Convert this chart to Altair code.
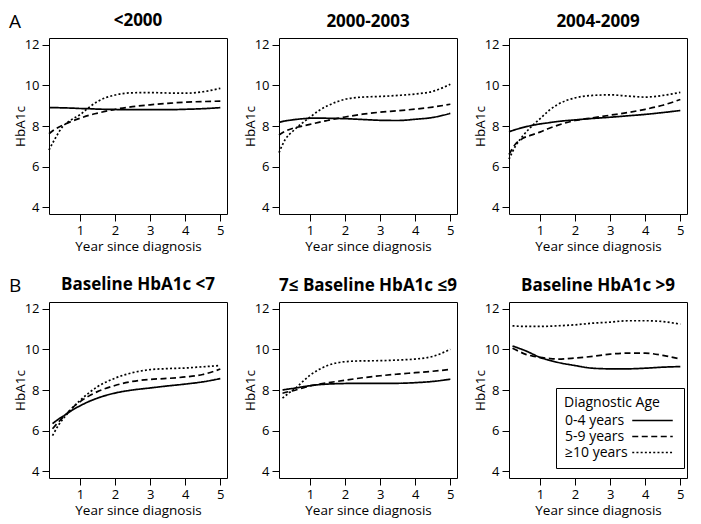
import altair as alt
import pandas as pd

# ---------------- data ----------------
X_A = [0.12, 0.3, 0.5, 0.75, 1, 1.25, 1.5, 2, 2.5, 3, 3.5, 4, 4.5, 5]
X_B = [0.22, 0.4, 0.6, 0.8, 1, 1.25, 1.5, 2, 2.5, 3, 3.5, 4, 4.5, 5]

PANELS = ["<2000", "2000-2003", "2004-2009",
          "Baseline HbA1c <7", "7\u2264 Baseline HbA1c \u22649", "Baseline HbA1c >9"]
GROUPS = ["0-4 years", "5-9 years", "\u226510 years"]
LETTERS = ["A", "B"]
X_TICKS = [1, 2, 3, 4, 5]
Y_TICKS = [4, 6, 8, 10, 12]

# <2000
A1_04 = [8.90, 8.90, 8.89, 8.88, 8.86, 8.85, 8.83, 8.81, 8.80, 8.80, 8.80, 8.82, 8.85, 8.90]
A1_59 = [7.62, 7.85, 8.03, 8.22, 8.38, 8.52, 8.63, 8.82, 8.95, 9.04, 9.11, 9.17, 9.20, 9.22]
A1_10 = [6.82, 7.40, 7.95, 8.30, 8.55, 8.90, 9.20, 9.52, 9.63, 9.64, 9.62, 9.61, 9.68, 9.85]
# 2000-2003
A2_04 = [8.18, 8.25, 8.30, 8.35, 8.38, 8.39, 8.38, 8.36, 8.32, 8.28, 8.27, 8.33, 8.42, 8.62]
A2_59 = [7.56, 7.75, 7.88, 7.98, 8.08, 8.18, 8.27, 8.44, 8.58, 8.68, 8.75, 8.83, 8.93, 9.07]
A2_10 = [6.69, 7.35, 7.72, 8.10, 8.43, 8.75, 8.99, 9.31, 9.42, 9.45, 9.50, 9.57, 9.70, 10.05]
# 2004-2009
A3_04 = [7.72, 7.82, 7.92, 8.02, 8.10, 8.16, 8.22, 8.30, 8.37, 8.43, 8.50, 8.57, 8.66, 8.76]
A3_59 = [6.60, 7.10, 7.38, 7.55, 7.70, 7.88, 8.03, 8.27, 8.40, 8.53, 8.66, 8.82, 9.02, 9.30]
A3_10 = [6.37, 7.00, 7.48, 7.96, 8.35, 8.75, 9.05, 9.38, 9.50, 9.53, 9.47, 9.42, 9.50, 9.65]
# Baseline <7
B1_04 = [6.35, 6.58, 6.80, 7.03, 7.22, 7.43, 7.60, 7.85, 8.00, 8.10, 8.20, 8.29, 8.40, 8.56]
B1_59 = [6.10, 6.45, 6.80, 7.15, 7.42, 7.70, 7.92, 8.22, 8.42, 8.52, 8.57, 8.64, 8.76, 9.03]
B1_10 = [5.76, 6.30, 6.75, 7.15, 7.48, 7.85, 8.16, 8.58, 8.85, 9.00, 9.05, 9.08, 9.14, 9.20]
# 7 <= Baseline <= 9
B2_04 = [8.00, 8.05, 8.10, 8.16, 8.21, 8.26, 8.29, 8.32, 8.33, 8.33, 8.33, 8.36, 8.42, 8.53]
B2_59 = [7.84, 7.92, 8.00, 8.10, 8.20, 8.28, 8.35, 8.48, 8.60, 8.70, 8.78, 8.85, 8.92, 9.01]
B2_10 = [7.60, 7.85, 8.10, 8.42, 8.72, 9.00, 9.20, 9.39, 9.43, 9.44, 9.47, 9.52, 9.65, 10.00]
# Baseline > 9
B3_04 = [10.16, 10.05, 9.92, 9.76, 9.60, 9.47, 9.36, 9.20, 9.07, 9.04, 9.04, 9.07, 9.12, 9.15]
B3_59 = [10.05, 9.90, 9.75, 9.66, 9.60, 9.55, 9.52, 9.57, 9.65, 9.76, 9.81, 9.81, 9.70, 9.52]
B3_10 = [11.15, 11.13, 11.12, 11.12, 11.12, 11.13, 11.15, 11.20, 11.28, 11.33, 11.40, 11.40, 11.36, 11.23]

PANEL_DATA = [
    (X_A, [A1_04, A1_59, A1_10]),
    (X_A, [A2_04, A2_59, A2_10]),
    (X_A, [A3_04, A3_59, A3_10]),
    (X_B, [B1_04, B1_59, B1_10]),
    (X_B, [B2_04, B2_59, B2_10]),
    (X_B, [B3_04, B3_59, B3_10]),
]

# ---------------- chart ----------------
FONT = "Open Sans"
W, H = 178, 176
X_DOMAIN = [0.12, 5.19]


def make_df(xs, ys_list):
    rows = []
    for g, ys in zip(GROUPS, ys_list):
        for x, y in zip(xs, ys):
            rows.append({"year": x, "hba1c": y, "group": g})
    return pd.DataFrame(rows)


def panel(i):
    xs, ys_list = PANEL_DATA[i]
    df = make_df(xs, ys_list)
    if i == 5:
        legend = alt.Legend(
            title="Diagnostic Age", orient="none", legendX=47, legendY=86,
            fillColor="white", strokeColor="black", padding=8,
            titleFont=FONT, titleFontSize=14, titleFontWeight="normal", titleColor="black",
            titlePadding=2,
            labelFont=FONT, labelFontSize=14, labelColor="black",
            symbolType="M-2.7,0H2.7", symbolSize=225, symbolStrokeWidth=1.6,
            symbolStrokeColor="black", symbolFillColor="transparent",
            labelAlign="left", labelOffset={"expr": "-96"}, symbolOffset=80,
            rowPadding=0,
        )
    else:
        legend = None
    lines = alt.Chart(df).mark_line(
        color="black", strokeWidth=1.7, interpolate="monotone"
    ).encode(
        x=alt.X("year:Q",
                scale=alt.Scale(domain=X_DOMAIN, nice=False, zero=False),
                axis=alt.Axis(values=X_TICKS, title="Year since diagnosis")),
        y=alt.Y("hba1c:Q",
                scale=alt.Scale(domain=[3.68, 12.32], nice=False, zero=False),
                axis=alt.Axis(values=Y_TICKS, title="HbA1c", titleX=-25, titleY=H / 2,
                              titleBaseline="alphabetic")),
        strokeDash=alt.StrokeDash("group:N",
                                  scale=alt.Scale(domain=GROUPS,
                                                  range=[[1, 0], [6, 3.5], [2, 2.2]]),
                                  legend=legend),
    )
    layers = [lines]
    title_offset = 7
    if i in (0, 3):
        letter = alt.Chart(pd.DataFrame({"t": [LETTERS[i // 3]]})).mark_text(
            fontSize=19, align="left", baseline="alphabetic", font=FONT, color="black"
        ).encode(text="t:N", x=alt.value(-40), y=alt.value(-10))
        layers.append(letter)
        title_offset = {"expr": "-17"}
    return alt.layer(*layers).properties(
        width=W, height=H,
        title=alt.TitleParams(PANELS[i], fontSize=17, fontWeight="bold", font=FONT,
                              color="black", offset=title_offset, frame="group"),
    )


chart = alt.concat(
    *[panel(i) for i in range(6)], columns=3,
    spacing={"row": 88, "column": 52}, bounds="flush",
).resolve_scale(strokeDash="independent").resolve_legend(
    strokeDash="independent"
).properties(
    padding={"left": 0, "top": 3, "right": 5, "bottom": 2}
).configure_view(
    stroke="black", strokeWidth=1
).configure_axis(
    grid=False, domain=False, tickColor="black", tickSize=7, tickWidth=1,
    labelFont=FONT, labelFontSize=13, labelColor="black", labelPadding=3,
    titleFont=FONT, titleFontSize=13.5, titleFontWeight="normal", titleColor="black",
    titlePadding=2,
)

chart.save("out.html", embed_options={"renderer": "svg", "actions": False})
